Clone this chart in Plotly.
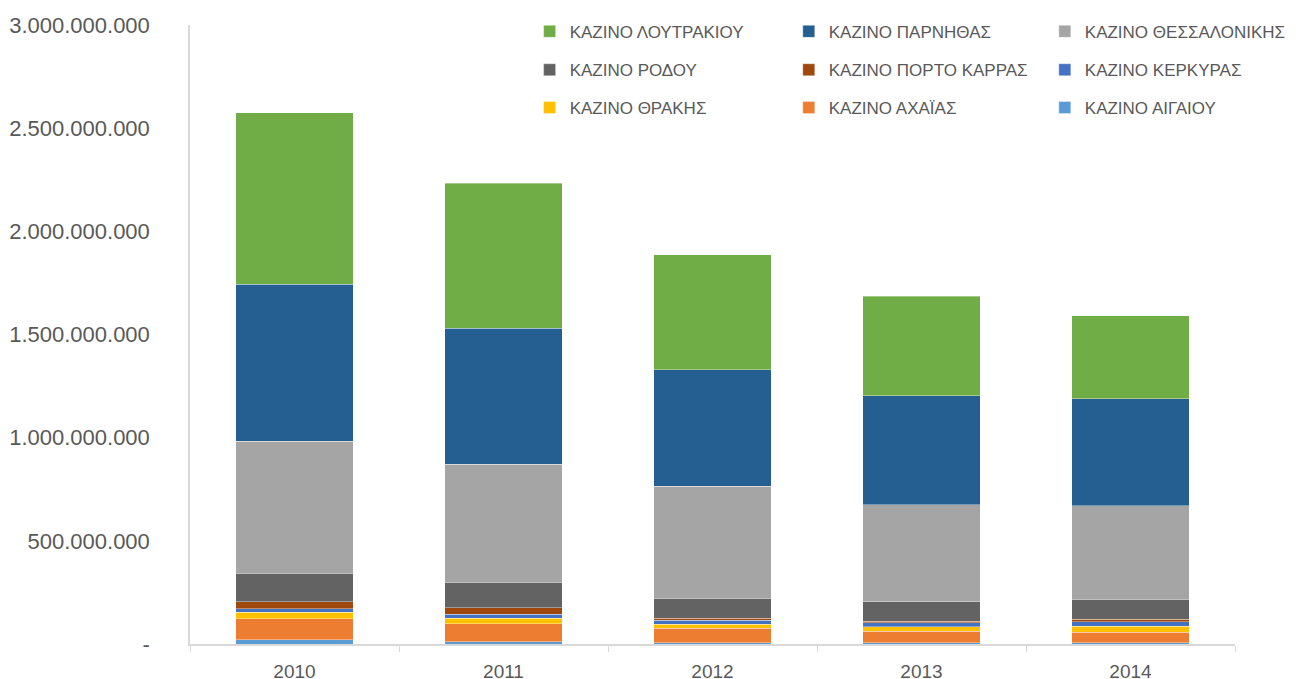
import plotly.graph_objects as go

# --- data (in euros) ---
years = ["2010", "2011", "2012", "2013", "2014"]

aigaiou = [20e6, 10e6, 7e6, 6e6, 5e6]
achaia = [103e6, 89e6, 69e6, 55e6, 53e6]
thraki = [30e6, 27e6, 19e6, 22e6, 27e6]
kerkyra = [18e6, 17e6, 19e6, 19e6, 24e6]
porto_karras = [35e6, 33e6, 10e6, 8e6, 10e6]
rodos = [138e6, 124e6, 98e6, 94e6, 98e6]
thessaloniki = [638e6, 570e6, 542e6, 470e6, 454e6]
parnitha = [762e6, 660e6, 566e6, 528e6, 518e6]
loutraki = [830e6, 702e6, 557e6, 484e6, 402e6]

y_tickvals = [0, 500e6, 1000e6, 1500e6, 2000e6, 2500e6, 3000e6]
y_ticktext = ["-", "500.000.000", "1.000.000.000", "1.500.000.000",
              "2.000.000.000", "2.500.000.000", "3.000.000.000"]

# stacked bottom-up: (name, values, colour, legend row, legend column)
series = [
    ("ΚΑΖΙΝΟ ΑΙΓΑΙΟΥ", aigaiou, "#5B9BD5", 2, 2),
    ("ΚΑΖΙΝΟ ΑΧΑΪΑΣ", achaia, "#ED7D31", 2, 1),
    ("ΚΑΖΙΝΟ ΘΡΑΚΗΣ", thraki, "#FFC000", 2, 0),
    ("ΚΑΖΙΝΟ ΚΕΡΚΥΡΑΣ", kerkyra, "#4472C4", 1, 2),
    ("ΚΑΖΙΝΟ ΠΟΡΤΟ ΚΑΡΡΑΣ", porto_karras, "#9E480E", 1, 1),
    ("ΚΑΖΙΝΟ ΡΟΔΟΥ", rodos, "#636363", 1, 0),
    ("ΚΑΖΙΝΟ ΘΕΣΣΑΛΟΝΙΚΗΣ", thessaloniki, "#A5A5A5", 0, 2),
    ("ΚΑΖΙΝΟ ΠΑΡΝΗΘΑΣ", parnitha, "#255E91", 0, 1),
    ("ΚΑΖΙΝΟ ΛΟΥΤΡΑΚΙΟΥ", loutraki, "#70AD47", 0, 0),
]

# legend grid in paper coords of the plot area
col_x = [0.325, 0.573, 0.818]
row_y = [0.989, 0.927, 0.866]

grey = "#595959"
fig = go.Figure()
legends = {}
for i, (name, vals, color, row, col) in enumerate(series):
    leg = "legend" if i == 0 else f"legend{i + 1}"
    fig.add_trace(go.Bar(
        x=years, y=vals, name=name, legend=leg, showlegend=True,
        marker=dict(color=color, line=dict(color="rgba(255,255,255,0.6)", width=0.6)),
    ))
    legends[leg] = dict(
        x=col_x[col], y=row_y[row], xanchor="left", yanchor="middle",
        font=dict(family="Liberation Sans", size=17, color=grey),
        bgcolor="rgba(0,0,0,0)", itemwidth=30, visible=True,
    )

# the page body adds an 8px offset, so margins are trimmed on the left/top
fig.update_layout(
    width=1296, height=679,
    barmode="stack", bargap=0.44, showlegend=True,
    plot_bgcolor="white", paper_bgcolor="white",
    margin=dict(l=182, r=69, t=17, b=43, autoexpand=False),
    font=dict(family="Liberation Sans", color=grey),
    xaxis=dict(
        type="category", showline=True, linecolor="#D9D9D9", linewidth=1.5,
        ticks="outside", tickson="boundaries", tickcolor="#D9D9D9", ticklen=6,
        tickfont=dict(size=19, color=grey), showgrid=False, ticklabelstandoff=9,
    ),
    yaxis=dict(
        range=[0, 3000e6], tickvals=y_tickvals, ticktext=y_ticktext,
        showgrid=False, showline=True, linecolor="#D9D9D9", linewidth=1.5,
        ticks="outside", ticklen=34, tickcolor="rgba(0,0,0,0)",
        tickfont=dict(size=22, color=grey), zeroline=False,
    ),
    **legends,
)

fig.write_html("out.html")
